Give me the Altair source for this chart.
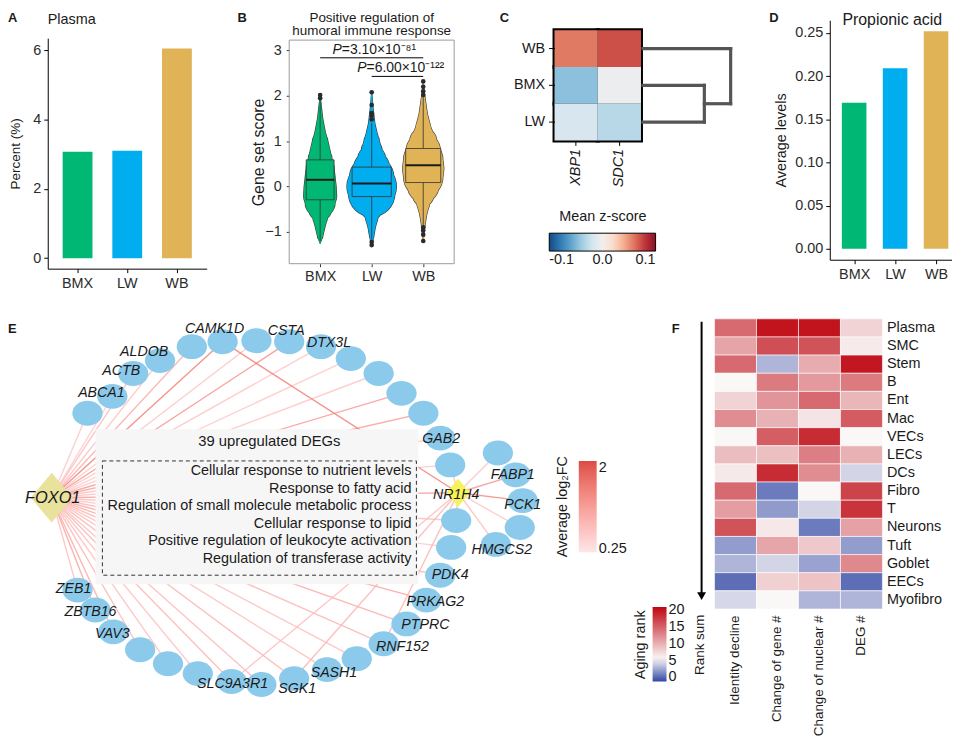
import altair as alt
import pandas as pd

FONT = "Liberation Sans"
INK = "#1a1a1a"
TICKLAB = "#2b2b2b"

# ---------------- shared ----------------
groups = ["BMX", "LW", "WB"]
group_colors = ["#00b874", "#00adee", "#dfb356"]

# ---------------- A: plasma cell percent ----------------
plasma_percent = [3.07, 3.10, 6.05]

# ---------------- B: gene set score violins ----------------
bmx_score = [-1.25, -1.1, -0.9, -0.7, -0.5, -0.35, -0.2, 0.0, 0.2, 0.4, 0.6, 0.8, 1.0, 1.2, 1.5, 1.7, 2.0]
bmx_halfwidth = [0.0, 0.05, 0.09, 0.14, 0.22, 0.29, 0.32, 0.31, 0.29, 0.27, 0.23, 0.19, 0.15, 0.10, 0.05, 0.03, 0.0]
lw_score = [-1.3, -1.1, -0.9, -0.7, -0.5, -0.3, -0.15, 0.0, 0.2, 0.4, 0.6, 0.8, 1.0, 1.2, 1.4, 1.8, 2.1]
lw_halfwidth = [0.0, 0.04, 0.07, 0.12, 0.20, 0.33, 0.45, 0.48, 0.43, 0.35, 0.27, 0.20, 0.15, 0.10, 0.06, 0.02, 0.0]
wb_score = [-1.2, -1.0, -0.8, -0.6, -0.4, -0.2, 0.0, 0.2, 0.4, 0.6, 0.8, 1.0, 1.3, 1.6, 2.0, 2.3]
wb_halfwidth = [0.0, 0.02, 0.04, 0.07, 0.12, 0.20, 0.30, 0.38, 0.40, 0.38, 0.33, 0.26, 0.15, 0.08, 0.03, 0.0]
box_q1 = [-0.29, -0.22, 0.09]
box_median = [0.15, 0.07, 0.47]
box_q3 = [0.59, 0.43, 0.84]
whisker_low = [-1.2, -1.15, -0.85]
whisker_high = [1.9, 1.4, 2.0]
box_halfwidth = [0.27, 0.38, 0.34]
outlier_group = ["BMX", "BMX", "LW", "LW", "LW", "LW", "LW", "LW", "LW",
                 "WB", "WB", "WB", "WB", "WB", "WB", "WB", "WB"]
outlier_score = [1.95, 2.02, 1.48, 1.56, 1.62, 1.8, 2.08, -1.22, -1.29,
                 2.02, 2.1, 2.2, 2.32, -0.9, -0.97, -1.06, -1.2]
p_pairs_from = [0, 1]
p_pairs_to = [2, 2]
p_bracket_score = [2.84, 2.43]
p_text = ["=3.10×10⁻⁸¹", "=6.00×10⁻¹²²"]
p_text_x = [0.42, 0.90]
p_text_score = [3.02, 2.61]
b_x_limits = [-0.6, 2.6]
b_y_limits = [-1.70, 3.23]

# ---------------- C: mean z-score heatmap ----------------
c_samples = ["WB", "BMX", "LW"]
c_genes = ["XBP1", "SDC1"]
c_xbp1_z = [0.058, -0.045, -0.016]
c_sdc1_z = [0.072, -0.004, -0.030]
dendro_merge_height = [0.70, 1.0]

# ---------------- D: propionic acid ----------------
propionic_levels = [0.169, 0.209, 0.252]
d_x_limits = [-0.595, 2.39]

# ---------------- E: network (layout coordinates) ----------------
ring_x = [82, 107, 128, 155, 187, 218, 252, 285, 317, 347, 375, 398, 420, 437, 447, 453,
          448, 437, 423, 403, 380, 353, 323, 290, 257, 227, 193, 163, 135, 108, 90, 72]
ring_y = [405, 388, 365, 352, 338, 333, 332, 333, 338, 350, 365, 385, 405, 430, 457, 513,
          540, 568, 593, 617, 637, 652, 663, 672, 678, 675, 667, 657, 643, 625, 603, 583]
foxo1_fc = [0.5, 0.45, 0.6, 0.55, 0.8, 1.3, 0.5, 1.1, 0.5, 0.45, 0.5, 1.0, 0.9, 0.6, 0.5, 0.6,
            0.5, 0.7, 0.9, 0.8, 0.7, 0.6, 0.6, 0.7, 0.6, 0.7, 0.6, 0.6, 0.7, 0.8, 0.9, 0.6]
cluster_x = [495, 513, 520, 517, 493]
cluster_y = [445, 467, 493, 520, 537]
cluster_fc = [0.5, 1.0, 1.2, 0.5, 0.6]
tf_names = ["FOXO1", "NR1H4"]
tf_x = [46, 455]
tf_y = [490, 485]
foxo1_nr1h4_fc = 0.9
nr1h4_ring_targets = [5, 14, 15, 25, 23, 20]
nr1h4_ring_fc = [1.3, 0.5, 0.8, 0.6, 0.7, 0.7]
gene_labels = ["ABCA1", "ACTB", "ALDOB", "CAMK1D", "CSTA", "DTX3L", "GAB2", "FABP1", "PCK1",
               "HMGCS2", "PDK4", "PRKAG2", "PTPRC", "RNF152", "SASH1", "SGK1", "SLC9A3R1",
               "VAV3", "ZBTB16", "ZEB1"]
gene_label_x = [96, 116, 139, 210, 282, 325, 438, 510, 520, 499, 447, 432, 422, 399, 330, 293, 228, 107, 85, 68]
gene_label_y = [385, 363, 343, 320, 322, 334, 431, 467, 497, 543, 568, 595, 618, 640, 666, 683, 677, 627, 605, 582]
tf_label_x = [47, 453]
tf_label_y = [490, 487]
go_box_x = [90, 415]
go_box_y = [421, 577]
go_dash_x = [97, 413]
go_dash_y = [453, 568]
go_header = "39 upregulated DEGs"
go_header_xy = [265, 434]
go_terms = ["Cellular response to nutrient levels", "Response to fatty acid",
            "Regulation of small molecule metabolic process", "Cellular response to lipid",
            "Positive regulation of leukocyte activation", "Regulation of transferase activity"]
go_term_x = 408
go_term_y = [463.5, 481, 498.5, 516.5, 534, 551.5]

# ---------------- F: aging rank heatmap ----------------
f_cells = ["Plasma", "SMC", "Stem", "B", "Ent", "Mac", "VECs", "LECs", "DCs", "Fibro", "T",
           "Neurons", "Tuft", "Goblet", "EECs", "Myofibro"]
f_metrics = ["Identity decline", "Change of gene #", "Change of nuclear #", "DEG #"]
f_identity = [14.5, 10.8, 14.5, 5.5, 7.8, 12.3, 5.5, 9.2, 6.4, 14.5, 11.2, 16.0, 2.1, 3.0, 0.3, 4.3]
f_gene = [20.0, 16.3, 3.0, 13.5, 11.8, 10.0, 15.3, 9.1, 18.5, 0.8, 2.0, 6.5, 10.7, 4.2, 8.0, 5.5]
f_nuclear = [20.0, 16.0, 10.3, 11.5, 14.5, 6.7, 18.5, 13.2, 12.3, 5.5, 4.2, 0.8, 8.5, 2.3, 8.8, 3.0]
f_deg = [7.8, 6.3, 19.8, 13.5, 9.6, 15.5, 5.5, 10.0, 4.2, 17.0, 18.0, 11.0, 2.1, 12.5, 0.3, 3.0]

# ======================================================================
grp_scale = alt.Scale(domain=groups, range=group_colors)
one = pd.DataFrame({"k": [0]})


def spacer(w):
    return alt.Chart(one).mark_point(opacity=0).encode(
        x=alt.value(0), y=alt.value(0)).properties(width=w, height=1)


def note(text, x, y, size=14.5, weight="normal", align="left", angle=0, style="normal"):
    return alt.Chart(pd.DataFrame({"t": [text]})).mark_text(
        align=align, baseline="middle", fontSize=size, fontWeight=weight,
        fontStyle=style, angle=angle, color=INK, font=FONT
    ).encode(text="t:N", x=alt.value(x), y=alt.value(y))


# ---------------- Panel A ----------------
dfA = pd.DataFrame({"group": groups, "value": plasma_percent})
barsA = alt.Chart(dfA).mark_bar().encode(
    x=alt.X("group:N", sort=groups, scale=alt.Scale(paddingInner=0.4, paddingOuter=0.3),
            axis=alt.Axis(title=None, labelAngle=0, labelPadding=4)),
    y=alt.Y("value:Q", scale=alt.Scale(domain=[-0.3025, 6.3525], range=[250, 18], nice=False, zero=False),
            axis=alt.Axis(title="Percent (%)", values=[0, 2, 4, 6], titlePadding=10, titleFontSize=13.6)),
    y2=alt.datum(0),
    color=alt.Color("group:N", scale=grp_scale, legend=None),
)
panelA = alt.layer(barsA, note("A", -40, -2.5, 13, "bold"), note("Plasma", 0, 0)).properties(width=160, height=250)

# ---------------- Panel B ----------------
violin_rows = []
for i, (g, ys, ws) in enumerate(zip(groups, [bmx_score, lw_score, wb_score],
                                    [bmx_halfwidth, lw_halfwidth, wb_halfwidth])):
    for s, w in zip(ys, ws):
        violin_rows.append({"group": g, "pos": i, "score": s, "hw": w})
dfViolin = pd.DataFrame(violin_rows)
dfBox = pd.DataFrame({"group": groups, "pos": [0, 1, 2], "q1": box_q1, "med": box_median, "q3": box_q3,
                      "lo": whisker_low, "hi": whisker_high, "bw": box_halfwidth})
dfOut = pd.DataFrame({"group": outlier_group, "score": outlier_score})
dfOut["pos"] = dfOut["group"].map({g: i for i, g in enumerate(groups)})
dfBr = pd.DataFrame({"a": p_pairs_from, "b": p_pairs_to, "y": p_bracket_score})
dfP = pd.DataFrame({"x": p_text_x, "y": p_text_score, "rest": p_text, "p": ["P", "P"]})
dfFrame = pd.DataFrame({"x": [b_x_limits[0]], "x2": [b_x_limits[1]], "y": [b_y_limits[0]], "y2": [b_y_limits[1]]})

B_WIDTH = 166
unit_px = B_WIDTH / (b_x_limits[1] - b_x_limits[0])
xBs = alt.Scale(domain=b_x_limits, nice=False, zero=False)
yBs = alt.Scale(domain=b_y_limits, range=[245, 20], nice=False, zero=False)
axBx = alt.Axis(title=None, values=[0, 1, 2], labelExpr="['BMX','LW','WB'][datum.value]",
                domain=False, tickSize=3, tickColor="#333333", labelPadding=3)
axBy = alt.Axis(title="Gene set score", values=[-1, 0, 1, 2, 3], domain=False, tickSize=3,
                tickColor="#333333", labelPadding=5, titleFontSize=16, titlePadding=-2)


def bx(f):
    return alt.X(f, scale=xBs, axis=axBx)


def by(f):
    return alt.Y(f, scale=yBs, axis=axBy)


grp_color = alt.Color("group:N", scale=grp_scale, legend=None)
frameB = alt.Chart(dfFrame).mark_rect(fillOpacity=0, stroke="#9a9a9a", strokeWidth=1).encode(
    x=bx("x:Q"), x2="x2:Q", y=by("y:Q"), y2="y2:Q")
violin_edge = alt.Chart(dfViolin).mark_trail(color="#3a3a3a").encode(
    x=bx("pos:Q"), y=by("score:Q"),
    size=alt.Size("hw:Q", scale=alt.Scale(domain=[0, 1], range=[1.2, 2 * unit_px + 1.2]), legend=None),
    detail="group:N", order="score:Q")
violin_fill = alt.Chart(dfViolin).mark_trail().encode(
    x=bx("pos:Q"), y=by("score:Q"),
    size=alt.Size("hw:Q", scale=alt.Scale(domain=[0, 1], range=[0, 2 * unit_px]), legend=None),
    color=grp_color, detail="group:N", order="score:Q")
whisk = alt.Chart(dfBox).mark_rule(color="#333333", strokeWidth=0.8).encode(
    x=bx("pos:Q"), y=by("lo:Q"), y2="hi:Q")
boxB = alt.Chart(dfBox).transform_calculate(
    bl="datum.pos - datum.bw", br="datum.pos + datum.bw"
).mark_rect(stroke="#333333", strokeWidth=0.8).encode(
    x=bx("bl:Q"), x2="br:Q", y=by("q1:Q"), y2="q3:Q", color=grp_color)
medB = alt.Chart(dfBox).transform_calculate(
    bl="datum.pos - datum.bw", br="datum.pos + datum.bw"
).mark_rule(color="#1a1a1a", strokeWidth=2).encode(x=bx("bl:Q"), x2="br:Q", y=by("med:Q"))
outB = alt.Chart(dfOut).mark_circle(size=22, color="#2a2a2a", opacity=1).encode(
    x=bx("pos:Q"), y=by("score:Q"))
brB = alt.Chart(dfBr).mark_rule(color="black", strokeWidth=1).encode(x=bx("a:Q"), x2="b:Q", y=by("y:Q"))
pItal = alt.Chart(dfP).mark_text(align="right", baseline="middle", fontSize=14, fontStyle="italic",
                                 color=INK, font=FONT).encode(x=bx("x:Q"), y=by("y:Q"), text="p:N")
pRest = alt.Chart(dfP).mark_text(align="left", baseline="middle", fontSize=14,
                                 color=INK, font=FONT).encode(x=bx("x:Q"), y=by("y:Q"), text="rest:N")
panelB = alt.layer(
    frameB, violin_edge, violin_fill, whisk, boxB, medB, outB, brB, pItal, pRest,
    note("B", -52, -2.5, 13, "bold"),
    note("Positive regulation of", 83, -2.5, 13.5, align="center"),
    note("humoral immune response", 83, 11, 13.5, align="center"),
).resolve_scale(size="independent").properties(width=B_WIDTH, height=245)

# ---------------- Panel C ----------------
c_rows = []
for r, s in enumerate(c_samples):
    for gname, vals in zip(c_genes, [c_xbp1_z, c_sdc1_z]):
        c_rows.append({"sample": s, "gene": gname, "z": vals[r]})
dfC = pd.DataFrame(c_rows)
xC = alt.X("gene:N", sort=c_genes, scale=alt.Scale(paddingInner=0, paddingOuter=0),
           axis=alt.Axis(title=None, labelAngle=-90, labelFontStyle="italic", domain=False,
                         tickSize=5, labelPadding=3, labelColor=INK))
yC = alt.Y("sample:N", sort=c_samples, scale=alt.Scale(paddingInner=0, paddingOuter=0.1351, align=1),
           axis=alt.Axis(title=None, domain=False, tickSize=6, labelPadding=4, labelColor=INK))
cellsBorder = alt.Chart(dfC).mark_rect(color="black", stroke="black", strokeWidth=4).encode(x=xC, y=yC)
cellsC = alt.Chart(dfC).mark_rect().encode(
    x=xC, y=yC,
    color=alt.Color("z:Q", scale=alt.Scale(scheme="redblue", reverse=True, domain=[-0.1, 0.1]),
                    legend=alt.Legend(title="Mean z-score", orient="none", legendX=-5.3, legendY=190.8,
                                      direction="horizontal", gradientLength=107, gradientThickness=18,
                                      titleAnchor="middle", titlePadding=9, values=[-0.1, 0, 0.1],
                                      labelExpr="datum.value < 0 ? '-' + format(-datum.value, '.1f') : format(datum.value, '.1f')",
                                      gradientStrokeColor="black", gradientStrokeWidth=1,
                                      labelAlign="center")))
panelC = alt.layer(cellsBorder, cellsC, note("C", -55, -2.5, 13, "bold")).properties(width=87, height=121)

h1, h2 = dendro_merge_height
dfDen = pd.DataFrame({
    "x": [0, 0, 0, h1, h1, h2],
    "x2": [h2, h1, h1, h1, h2, h2],
    "y": [0, 1, 2, 1, 1.5, 0],
    "y2": [0, 1, 2, 2, 1.5, 1.5],
})
dendro = alt.Chart(dfDen).mark_rule(color="#555555", strokeWidth=3.2, strokeCap="square").encode(
    x=alt.X("x:Q", scale=alt.Scale(domain=[0, 1.02], nice=False, zero=False), axis=None),
    x2="x2:Q",
    y=alt.Y("y:Q", scale=alt.Scale(domain=[-0.5, 2.5], range=[10, 121], nice=False, zero=False), axis=None),
    y2="y2:Q",
).properties(width=90, height=121)

# ---------------- Panel D ----------------
dfD = pd.DataFrame({"group": groups, "pos": [0, 1, 2], "value": propionic_levels})
xDs = alt.Scale(domain=d_x_limits, nice=False, zero=False)
axDx = alt.Axis(title=None, values=[0, 1, 2], labelExpr="['BMX','LW','WB'][datum.value]", labelPadding=4)
barsD = alt.Chart(dfD).transform_calculate(
    bl="datum.pos - 0.3", br="datum.pos + 0.3"
).mark_rect().encode(
    x=alt.X("bl:Q", scale=xDs, axis=axDx),
    x2="br:Q",
    y=alt.Y("value:Q", scale=alt.Scale(domain=[-0.0126, 0.2646], range=[241, 0], nice=False, zero=False),
            axis=alt.Axis(title="Average levels", values=[0, 0.05, 0.1, 0.15, 0.2, 0.25], format=".2f",
                          titlePadding=6.5)),
    y2=alt.datum(0),
    color=alt.Color("group:N", scale=grp_scale, legend=None),
)
panelD = alt.layer(barsD, note("D", -61, -2.5, 13, "bold"),
                   note("Propionic acid", 12.7, -0.3, 16)).properties(width=123, height=241)

top = alt.hconcat(panelA, spacer(83), panelB, spacer(101), panelC, spacer(2), dendro, spacer(98), panelD,
                  spacing=0, bounds="flush").resolve_scale(color="independent")

# ---------------- Panel E ----------------
ex0, ey0 = tf_x[0], tf_y[0]
nx0, ny0 = tf_x[1], tf_y[1]
edge_rows = []
for x, y, fc in zip(ring_x, ring_y, foxo1_fc):
    edge_rows.append({"x": ex0, "y": ey0, "x2": x, "y2": y, "fc": fc})
edge_rows.append({"x": ex0, "y": ey0, "x2": nx0, "y2": ny0, "fc": foxo1_nr1h4_fc})
for x, y, fc in zip(cluster_x, cluster_y, cluster_fc):
    edge_rows.append({"x": nx0, "y": ny0, "x2": x, "y2": y, "fc": fc})
for idx, fc in zip(nr1h4_ring_targets, nr1h4_ring_fc):
    edge_rows.append({"x": nx0, "y": ny0, "x2": ring_x[idx], "y2": ring_y[idx], "fc": fc})
dfEdges = pd.DataFrame(edge_rows)
dfNodes = pd.DataFrame({"x": ring_x + cluster_x, "y": ring_y + cluster_y})
dfTF = pd.DataFrame({"name": tf_names, "x": tf_x, "y": tf_y, "lx": tf_label_x, "ly": tf_label_y})
dfLab = pd.DataFrame({"t": gene_labels, "x": gene_label_x, "y": gene_label_y})
dfGoBox = pd.DataFrame({"x": [go_box_x[0]], "x2": [go_box_x[1]], "y": [go_box_y[0]], "y2": [go_box_y[1]]})
dfGoDash = pd.DataFrame({"x": [go_dash_x[0]], "x2": [go_dash_x[1]], "y": [go_dash_y[0]], "y2": [go_dash_y[1]]})
dfGoHead = pd.DataFrame({"t": [go_header], "x": [go_header_xy[0]], "y": [go_header_xy[1]]})
dfGoTerms = pd.DataFrame({"t": go_terms, "x": [go_term_x] * len(go_terms), "y": go_term_y})
dfLetterE = pd.DataFrame({"t": ["E"], "x": [2], "y": [320]})

xEs = alt.Scale(domain=[42, 600], nice=False, zero=False)
yEs = alt.Scale(domain=[300, 705], reverse=True, nice=False, zero=False)


def exq(f):
    return alt.X(f, scale=xEs, axis=None)


def eyq(f):
    return alt.Y(f, scale=yEs, axis=None)


ELLIPSE = "M -1 0 A 1 0.82 0 1 1 1 0 A 1 0.82 0 1 1 -1 0 Z"
DIAMOND = "M 0 -1 L 0.84 0 L 0 1 L -0.84 0 Z"

edgesE = alt.Chart(dfEdges).mark_rule(strokeWidth=1.4, opacity=0.85).encode(
    x=exq("x:Q"), y=eyq("y:Q"), x2="x2:Q", y2="y2:Q",
    color=alt.Color("fc:Q", scale=alt.Scale(domain=[0.185, 2.15], range=["#fbe2e2", "#d62a24"]),
                    legend=alt.Legend(title="Average log₂FC", orient="none", legendX=510.7, legendY=153,
                                      direction="vertical", gradientLength=92, gradientThickness=18,
                                      titleOrient="left", titleAnchor="middle", titlePadding=7.7,
                                      values=[0.25, 2], labelExpr="datum.value + ''",
                                      gradientStrokeWidth=0, labelBaseline="middle")))
goBox = alt.Chart(dfGoBox).mark_rect(color="#f6f6f6").encode(x=exq("x:Q"), x2="x2:Q", y=eyq("y:Q"), y2="y2:Q")
goDash = alt.Chart(dfGoDash).mark_rect(fillOpacity=0, stroke="#333333", strokeDash=[4, 3], strokeWidth=1).encode(
    x=exq("x:Q"), x2="x2:Q", y=eyq("y:Q"), y2="y2:Q")
goHead = alt.Chart(dfGoHead).mark_text(align="center", baseline="middle", fontSize=14.9, color=INK, font=FONT).encode(
    x=exq("x:Q"), y=eyq("y:Q"), text="t:N")
goTerms = alt.Chart(dfGoTerms).mark_text(align="right", baseline="middle", fontSize=14.5, color=INK, font=FONT).encode(
    x=exq("x:Q"), y=eyq("y:Q"), text="t:N")
nodesE = alt.Chart(dfNodes).mark_point(shape=ELLIPSE, filled=True, size=930, color="#8ccaec", opacity=1).encode(
    x=exq("x:Q"), y=eyq("y:Q"))
foxoNode = alt.Chart(dfTF).transform_filter("datum.name == 'FOXO1'").mark_point(
    shape=DIAMOND, filled=True, size=2500, color="#e8e29c", opacity=1).encode(x=exq("x:Q"), y=eyq("y:Q"))
nrNode = alt.Chart(dfTF).transform_filter("datum.name == 'NR1H4'").mark_point(
    shape=DIAMOND, filled=True, size=800, color="#f6f35a", opacity=1).encode(x=exq("x:Q"), y=eyq("y:Q"))
labelsE = alt.Chart(dfLab).mark_text(align="center", baseline="middle", fontSize=14.3, fontStyle="italic",
                                     color=INK, font=FONT).encode(x=exq("x:Q"), y=eyq("y:Q"), text="t:N")
foxoLab = alt.Chart(dfTF).transform_filter("datum.name == 'FOXO1'").mark_text(
    align="center", baseline="middle", fontSize=16.5, fontStyle="italic", color=INK, font=FONT
).encode(x=exq("lx:Q"), y=eyq("ly:Q"), text="name:N")
nrLab = alt.Chart(dfTF).transform_filter("datum.name == 'NR1H4'").mark_text(
    align="center", baseline="middle", fontSize=14.2, fontStyle="italic", color=INK, font=FONT
).encode(x=exq("lx:Q"), y=eyq("ly:Q"), text="name:N")
letterE = alt.Chart(dfLetterE).mark_text(align="left", baseline="middle", fontSize=13, fontWeight="bold",
                                         color=INK, font=FONT).encode(x=exq("x:Q"), y=eyq("y:Q"), text="t:N")
panelE = alt.layer(edgesE, goBox, goDash, goHead, goTerms, nodesE, foxoNode, nrNode,
                   labelsE, foxoLab, nrLab, letterE).properties(width=558, height=405)

# ---------------- Panel F ----------------
f_rows = []
for c, (m, vals) in enumerate(zip(f_metrics, [f_identity, f_gene, f_nuclear, f_deg])):
    for r, cell in enumerate(f_cells):
        f_rows.append({"cell": cell, "metric": m, "rank": vals[r]})
dfF = pd.DataFrame(f_rows)
xF = alt.X("metric:N", sort=f_metrics, scale=alt.Scale(paddingInner=0, paddingOuter=0),
           axis=alt.Axis(title=None, orient="bottom", labelAngle=-90, domain=False, ticks=False,
                         labelPadding=6, labelFontSize=13.5, labelColor=INK))
yF = alt.Y("cell:N", sort=f_cells, scale=alt.Scale(paddingInner=0, paddingOuter=0.274, align=1),
           axis=alt.Axis(title=None, orient="right", domain=False, ticks=False, labelPadding=4, labelColor=INK))
cellsF = alt.Chart(dfF).mark_rect(stroke="white", strokeWidth=0.6).encode(
    x=xF, y=yF,
    color=alt.Color("rank:Q", scale=alt.Scale(domain=[-1.2, 5.5, 20.9], range=["#3046a5", "#faf7f7", "#be0610"],
                                              interpolate="rgb"),
                    legend=alt.Legend(title="Aging rank", orient="none", legendX=-82, legendY=300,
                                      direction="vertical", gradientLength=75, gradientThickness=14,
                                      titleOrient="left", titleAnchor="middle", titlePadding=3.7,
                                      values=[0, 5, 10, 15, 20], labelExpr="datum.value + ''",
                                      gradientStrokeWidth=0, labelBaseline="middle")))
arrowRule = alt.Chart(one).mark_rule(color="black", strokeWidth=2).encode(
    x=alt.value(-13), y=alt.value(13), y2=alt.value(287))
arrowHead = alt.Chart(one).mark_point(shape="triangle-down", filled=True, color="black", size=80, opacity=1).encode(
    x=alt.value(-13), y=alt.value(289))
panelF = alt.layer(cellsF, arrowRule, arrowHead,
                   note("Rank sum", -15, 338, 13.5, angle=270, align="center"),
                   note("F", -43, 20, 13, "bold")).properties(width=169, height=302)

bottom = alt.hconcat(panelE, spacer(113), panelF, spacing=0, bounds="flush").resolve_scale(color="independent")

chart = alt.vconcat(top, bottom, spacing=15.5).resolve_scale(color="independent").properties(
    padding=0
).configure(font=FONT).configure_view(stroke=None).configure_axis(
    grid=False, labelFont=FONT, titleFont=FONT, labelFontSize=14.5, titleFontSize=14.5,
    labelColor=TICKLAB, titleColor=INK, titleFontWeight="normal", domainColor="black",
    domainWidth=1, tickColor="black", tickSize=4, labelPadding=3
).configure_legend(
    labelFont=FONT, titleFont=FONT, labelFontSize=14.5, titleFontSize=14.5, titleFontWeight="normal",
    labelColor=INK, titleColor=INK, padding=0
).configure_text(font=FONT)

chart.save("out.html", embed_options={"renderer": "svg", "actions": False})
